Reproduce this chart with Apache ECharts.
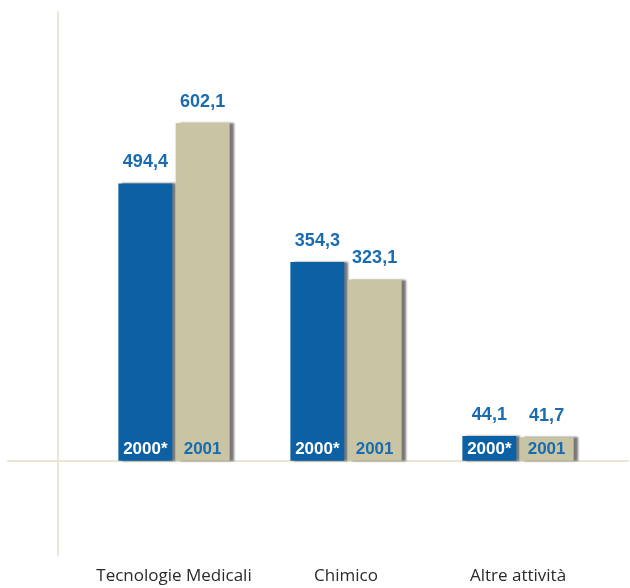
<!DOCTYPE html>
<html>
<head>
<meta charset="utf-8">
<style>
  html, body { margin: 0; padding: 0; background: #ffffff; }
  #chart { width: 630px; height: 588px; }
</style>
<script src="https://cdn.jsdelivr.net/npm/echarts@6/dist/echarts.min.js"></script>
</head>
<body>
<div id="chart"></div>
<script>
// Fatturato per settore, confronto 2000 / 2001
const categories = ['Tecnologie Medicali', 'Chimico', 'Altre attività'];
const values2000 = [494.4, 354.3, 44.1];
const values2001 = [602.1, 323.1, 41.7];
const yearLabels = ['2000*', '2001'];

const BLUE = '#0b61a3';
const TAN = '#c8c4a4';
const LABEL_BLUE = '#1a6cb0';
const RULE = '#e9e6d3';

const fmt = v => v.toFixed(1).replace('.', ',');
const numFont = "'Liberation Sans', Arial, sans-serif";

const Y_MIN = -168, Y_MAX = 800;

const chart = echarts.init(document.getElementById('chart'), null, { renderer: 'canvas' });

const mainBar = (name, data, color) => ({
  name, type: 'bar', xAxisIndex: 0, yAxisIndex: 0,
  data, barWidth: 54, barGap: '6%',
  itemStyle: {
    color,
    shadowColor: 'rgba(30,30,30,0.6)',
    shadowBlur: 2, shadowOffsetX: 4, shadowOffsetY: 0
  },
  label: {
    show: true, position: 'top', distance: 12,
    formatter: p => fmt(p.value),
    color: LABEL_BLUE, fontFamily: numFont, fontWeight: 'bold', fontSize: 18
  },
  silent: true
});

const yearBar = (name, data, textColor) => ({
  name: name + ' etichetta', type: 'bar', xAxisIndex: 2, yAxisIndex: 0,
  data, barWidth: 54, barGap: '6%',
  itemStyle: { color: 'rgba(0,0,0,0)' },
  label: {
    show: true, position: 'insideBottom', distance: 3,
    formatter: name,
    color: textColor, fontFamily: numFont, fontWeight: 'bold', fontSize: 17
  },
  silent: true
});

chart.setOption({
  animation: false,
  backgroundColor: '#ffffff',
  grid: [
    { left: 88, right: 26, top: 12, bottom: 33 },
    { left: 8, right: 2, top: 12, bottom: 33 }
  ],
  xAxis: [
    {
      type: 'category', gridIndex: 0, data: categories,
      axisLine: { show: false, onZero: false },
      axisTick: { show: false },
      axisLabel: {
        interval: 0, margin: 13, color: '#2a2a2a', fontSize: 17,
        fontFamily: "'Open Sans', 'DejaVu Sans', sans-serif"
      }
    },
    {
      type: 'value', gridIndex: 1, min: 0, max: 1,
      axisLine: { show: true, onZero: true, lineStyle: { color: RULE, width: 2 } },
      axisTick: { show: false }, axisLabel: { show: false }, splitLine: { show: false }
    },
    {
      type: 'category', gridIndex: 0, data: categories, show: false
    }
  ],
  yAxis: [
    {
      type: 'value', gridIndex: 0, min: Y_MIN, max: Y_MAX, offset: 30,
      axisLine: { show: true, lineStyle: { color: RULE, width: 2 } },
      axisTick: { show: false }, axisLabel: { show: false }, splitLine: { show: false }
    },
    {
      type: 'value', gridIndex: 1, min: Y_MIN, max: Y_MAX, show: false
    }
  ],
  series: [
    mainBar('2000', values2000, BLUE),
    mainBar('2001', values2001, TAN),
    yearBar(yearLabels[0], values2000, '#ffffff'),
    yearBar(yearLabels[1], values2001, LABEL_BLUE)
  ]
});
</script>
</body>
</html>
